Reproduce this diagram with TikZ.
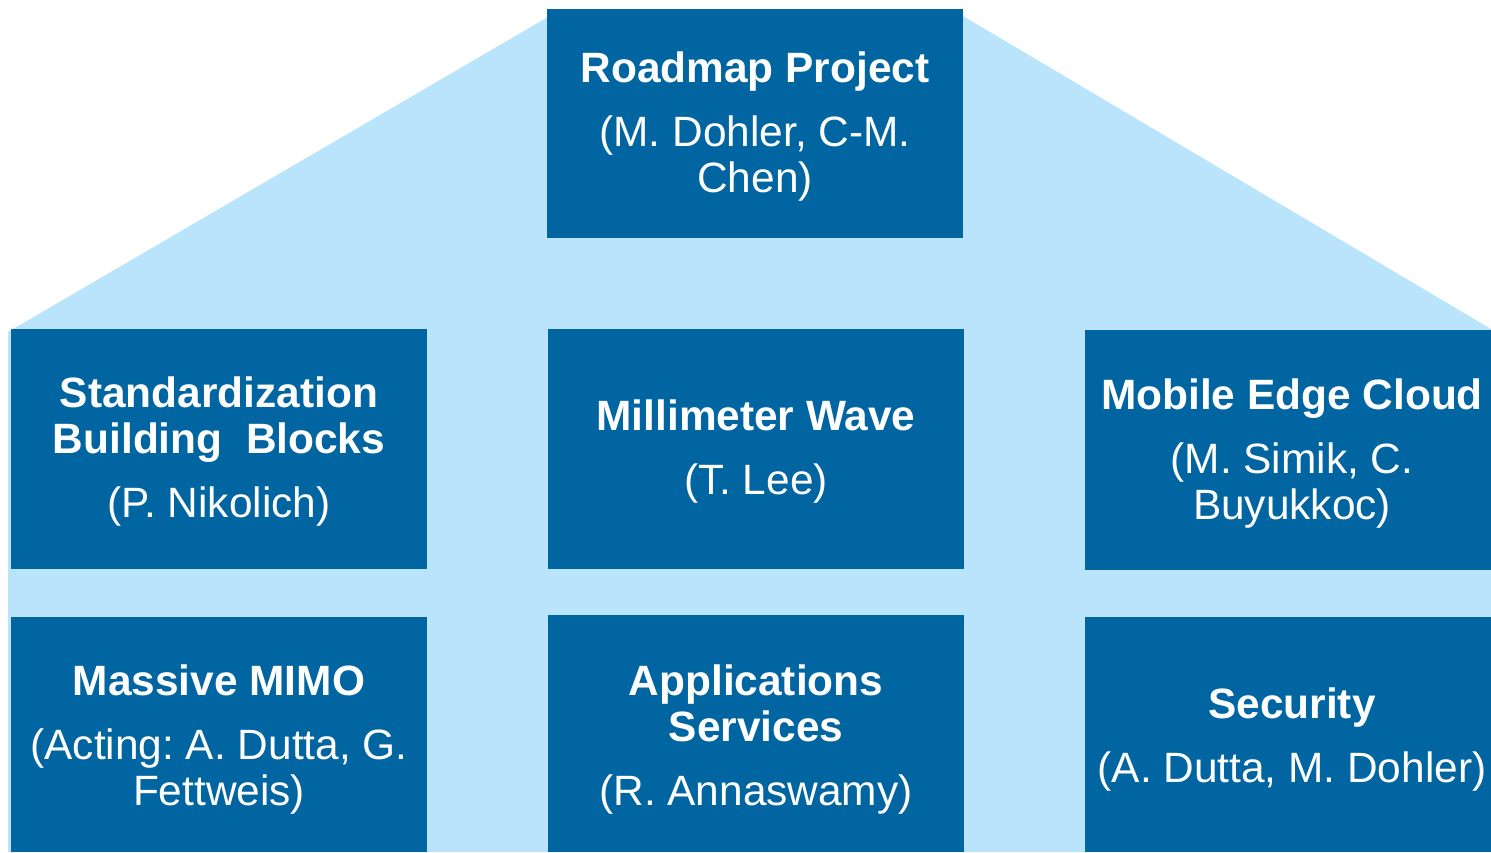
\documentclass[tikz,border=0pt]{standalone}
\usepackage{fontspec}
\setmainfont{Liberation Sans}
\frenchspacing
\definecolor{boxblue}{RGB}{0,101,161}
\definecolor{houseblue}{RGB}{186,228,252}
\tikzset{
  x=1pt, y=-1pt,
  wg/.style={fill=boxblue, draw=none},
  wgtext/.style={text=white, align=center, font=\fontsize{42.4}{46}\selectfont, inner sep=0pt},
}
\begin{document}
\begin{tikzpicture}
\useasboundingbox (0,0) rectangle (1491,852);
% house outline behind the working groups
\fill[houseblue] (8,852) -- (8,332) -- (548,17) -- (963,16) -- (1491,329) -- (1491,852) -- cycle;
% working group boxes
\fill[wg] (547,9) rectangle (963,238);
\fill[wg] (11,329) rectangle (427,569);
\fill[wg] (548,329) rectangle (964,569);
\fill[wg] (1085,330) rectangle (1491,570);
\fill[wg] (11,617) rectangle (427,852);
\fill[wg] (548,615) rectangle (964,852);
\fill[wg] (1085,617) rectangle (1491,852);
% labels
\node[wgtext] (roadmap) at (755,126.5) {\textbf{Roadmap Project}\\[18pt](M. Dohler, C-M.\\Chen)};
\node[wgtext] (std) at (219,451.5) {\textbf{Standardization}\\\textbf{Building\ \ Blocks}\\[18pt](P. Nikolich)};
\node[wgtext] (mmw) at (756,451.5) {\textbf{Millimeter Wave}\\[18pt](T. Lee)};
\node[wgtext] (mec) at (1292,453.5) {\textbf{Mobile Edge Cloud}\\[18pt](M. Simik, C.\\Buyukkoc)};
\node[wgtext] (mimo) at (219,739.5) {\textbf{Massive MIMO}\\[18pt](Acting: A. Dutta, G.\\Fettweis)};
\node[wgtext] (apps) at (756,739.5) {\textbf{Applications}\\\textbf{Services}\\[18pt](R. Annaswamy)};
\node[wgtext] (sec) at (1292,739.5) {\textbf{Security}\\[18pt](A. Dutta, M. Dohler)};
\end{tikzpicture}
\end{document}
